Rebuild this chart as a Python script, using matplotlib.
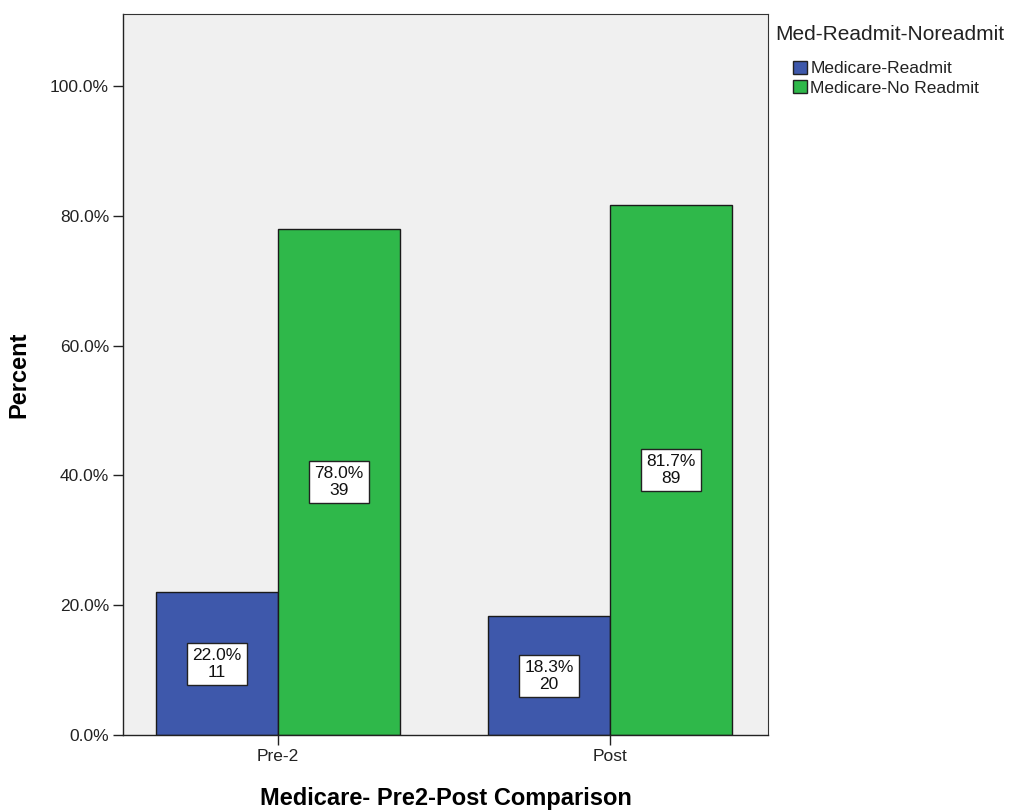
import numpy as np
import matplotlib.pyplot as plt
from matplotlib.patches import Patch

plt.rcParams['font.family'] = ['Liberation Sans', 'DejaVu Sans']

# ---------------------------------------------------------------------------
# Data
# ---------------------------------------------------------------------------
periods       = ['Pre-2', 'Post']
series_names  = ['Medicare-Readmit', 'Medicare-No Readmit']
readmit_pct   = [22.0, 18.3]
noreadmit_pct = [78.0, 81.7]
readmit_n     = [11, 20]
noreadmit_n   = [39, 89]
y_ticks       = [0, 20, 40, 60, 80, 100]

BLUE  = '#3E58AB'
GREEN = '#2FB84A'
BG    = '#F0F0F0'
INK   = '#222222'

fig = plt.figure(figsize=(10.09, 8.10), dpi=100)
ax = fig.add_axes([0.1219, 0.0926, 0.6392, 0.890])
ax.set_facecolor(BG)

x = np.arange(len(periods))
w = 0.368

bars_r = ax.bar(x - w / 2, readmit_pct, w, color=BLUE, edgecolor='#1a1a1a',
                linewidth=1.0, zorder=2)
bars_n = ax.bar(x + w / 2, noreadmit_pct, w, color=GREEN, edgecolor='#1a1a1a',
                linewidth=1.0, zorder=2)

# value boxes in the middle of each bar: percent over count
box = dict(boxstyle='square,pad=0.3', facecolor='white',
           edgecolor=INK, linewidth=1.0)
for bars, pcts, counts in [(bars_r, readmit_pct, readmit_n),
                           (bars_n, noreadmit_pct, noreadmit_n)]:
    for b, p, n in zip(bars, pcts, counts):
        ax.text(b.get_x() + b.get_width() / 2, p / 2, f"{p:.1f}%\n{n}",
                ha='center', va='center', fontsize=12.5, linespacing=1.15,
                color='#111111', bbox=box, zorder=3)

ax.set_xlim(-0.467, 1.476)
ax.set_ylim(0, 111.1)
ax.set_yticks(y_ticks)
ax.set_yticklabels([f"{t:.1f}%" for t in y_ticks], fontsize=12.5)
ax.set_xticks(x)
ax.set_xticklabels(periods, fontsize=12.5)
ax.tick_params(axis='both', direction='out', length=7, width=1.0,
               color=INK, labelcolor=INK, pad=3)

for side in ['left', 'bottom']:
    ax.spines[side].set_color(INK)
    ax.spines[side].set_linewidth(1.0)
for side in ['top', 'right']:
    ax.spines[side].set_color('#333333')
    ax.spines[side].set_linewidth(0.8)

ax.set_ylabel("Percent", fontsize=17, fontweight='bold', labelpad=14)
ax.set_xlabel("Medicare- Pre2-Post Comparison", fontsize=17,
              fontweight='bold', labelpad=17)

# legend: title on top, entries indented below it
fig.text(0.768, 0.957, "Med-Readmit-Noreadmit", fontsize=15, color=INK,
         ha='left', va='center')
handles = [Patch(facecolor=BLUE, edgecolor=INK),
           Patch(facecolor=GREEN, edgecolor=INK)]
leg = fig.legend(handles, series_names, loc='upper left',
                 bbox_to_anchor=(0.786, 0.925), frameon=False,
                 fontsize=12.5, handlelength=0.8, handleheight=0.8,
                 handletextpad=0.2, labelspacing=0.2, borderpad=0,
                 borderaxespad=0)
for t in leg.get_texts():
    t.set_color(INK)

fig.savefig("out.png", dpi=100)
